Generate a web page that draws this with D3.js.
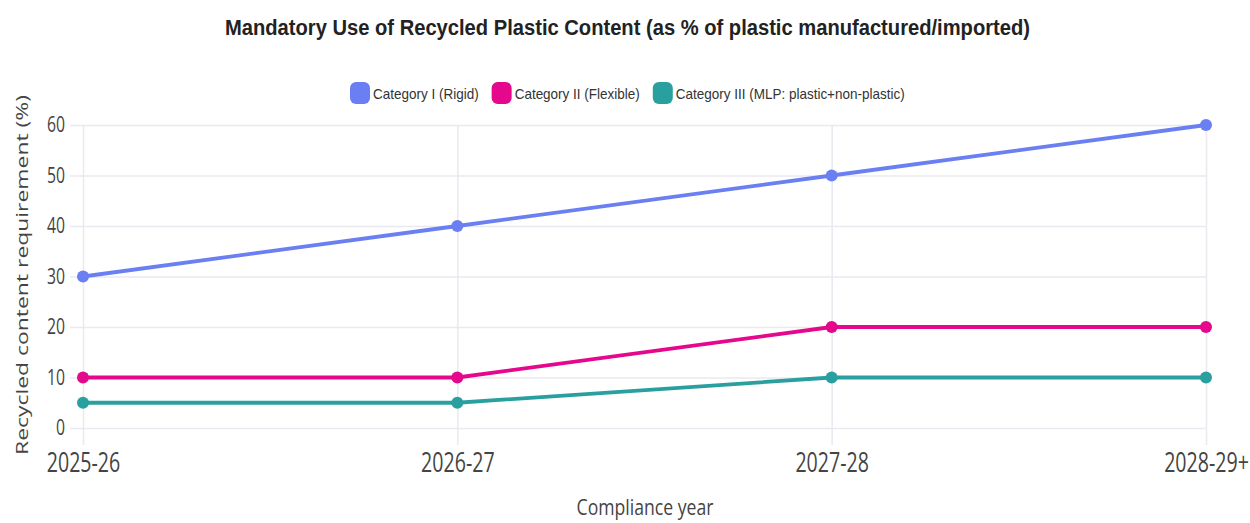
<!DOCTYPE html>
<html>
<head>
<meta charset="utf-8">
<script src="https://cdn.jsdelivr.net/npm/d3@7"></script>
<style>
  body { margin: 0; background: #fff; }
  svg { display: block; }
</style>
</head>
<body>
<svg id="chart" width="1250" height="523"></svg>
<script>
var years = ["2025-26", "2026-27", "2027-28", "2028-29+"];
var rigid = [30, 40, 50, 60];
var flexible = [10, 10, 20, 20];
var mlp = [5, 5, 10, 10];
var seriesNames = ["Category I (Rigid)", "Category II (Flexible)", "Category III (MLP: plastic+non-plastic)"];
var seriesColors = ["#6a7ff2", "#e5078c", "#2a9fa0"];
var yTicks = [0, 10, 20, 30, 40, 50, 60];

var series = [rigid, flexible, mlp].map(function (vals, i) {
	return { name: seriesNames[i], color: seriesColors[i], values: vals };
});

var svg = d3.select("#chart");

var x = d3.scalePoint()
	.domain(years)
	.range([83, 1206]);

var y = d3.scaleLinear()
	.domain([0, 60])
	.range([428, 125]);

var grid = "#e9e9ef";
var tickFont = "'Open Sans', 'Noto Sans', sans-serif";

// title
svg.append("text")
	.attr("x", 225)
	.attr("y", 35)
	.attr("textLength", 805)
	.attr("lengthAdjust", "spacingAndGlyphs")
	.style("font-family", "'Liberation Sans', Arial, sans-serif")
	.style("font-weight", "bold")
	.style("font-size", "22px")
	.style("fill", "#222")
	.text("Mandatory Use of Recycled Plastic Content (as % of plastic manufactured/imported)");

// y axis with grid lines
var yAxis = d3.axisLeft(y)
	.tickValues(yTicks)
	.tickSize(1136)
	.tickPadding(5);

var gy = svg.append("g")
	.attr("transform", "translate(1206,0)")
	.call(yAxis);
gy.select(".domain").remove();
gy.selectAll("line").attr("stroke", grid).attr("stroke-width", 1.5);
gy.selectAll("text")
	.attr("x", null)
	.attr("transform", "translate(-1141,0) scale(0.75,1)")
	.style("font-family", tickFont)
	.style("font-size", "21px")
	.style("fill", "#444");

// x axis with grid lines
var xAxis = d3.axisBottom(x)
	.tickSize(320)
	.tickPadding(7);

var gx = svg.append("g")
	.attr("transform", "translate(0,125)")
	.call(xAxis);
gx.select(".domain").remove();
gx.selectAll("line").attr("stroke", grid).attr("stroke-width", 1.5);
gx.selectAll("text")
	.attr("y", null)
	.attr("transform", "translate(0,327) scale(0.7,1)")
	.style("font-family", tickFont)
	.style("font-size", "28px")
	.style("fill", "#444");

// axis titles
svg.append("text")
	.attr("transform", "translate(28,455) rotate(-90) scale(1,0.74)")
	.attr("textLength", 360)
	.attr("lengthAdjust", "spacingAndGlyphs")
	.style("font-family", tickFont)
	.style("font-size", "23px")
	.style("fill", "#444")
	.text("Recycled content requirement (%)");

svg.append("text")
	.attr("transform", "translate(645,515) scale(0.84,1)")
	.attr("text-anchor", "middle")
	.style("font-family", tickFont)
	.style("font-size", "21px")
	.style("fill", "#444")
	.text("Compliance year");

// lines and points
var line = d3.line()
	.x(function (d, i) { return x(years[i]); })
	.y(function (d) { return y(d); });

var gs = svg.selectAll(".series")
	.data(series)
	.enter().append("g")
	.attr("class", "series");

gs.append("path")
	.attr("d", function (d) { return line(d.values); })
	.attr("fill", "none")
	.attr("stroke", function (d) { return d.color; })
	.attr("stroke-width", 3.8)
	.attr("stroke-linejoin", "round");

gs.selectAll("circle")
	.data(function (d) { return d.values.map(function (v, i) { return { v: v, i: i, color: d.color }; }); })
	.enter().append("circle")
	.attr("cx", function (d) { return x(years[d.i]); })
	.attr("cy", function (d) { return y(d.v); })
	.attr("r", 6)
	.attr("fill", function (d) { return d.color; });

// legend
var legend = svg.append("g");
var lx = 350;
series.forEach(function (s) {
	legend.append("rect")
		.attr("x", lx)
		.attr("y", 82)
		.attr("width", 20)
		.attr("height", 22)
		.attr("rx", 6)
		.attr("fill", s.color);
	var t = legend.append("text")
		.attr("transform", "translate(" + (lx + 23) + ",99) scale(0.9,1)")
		.style("font-family", "'Liberation Sans', Arial, sans-serif")
		.style("font-size", "15px")
		.style("fill", "#333")
		.text(s.name);
	var w = t.node().getComputedTextLength() * 0.9;
	lx += 23 + w + 13;
});
</script>
</body>
</html>
